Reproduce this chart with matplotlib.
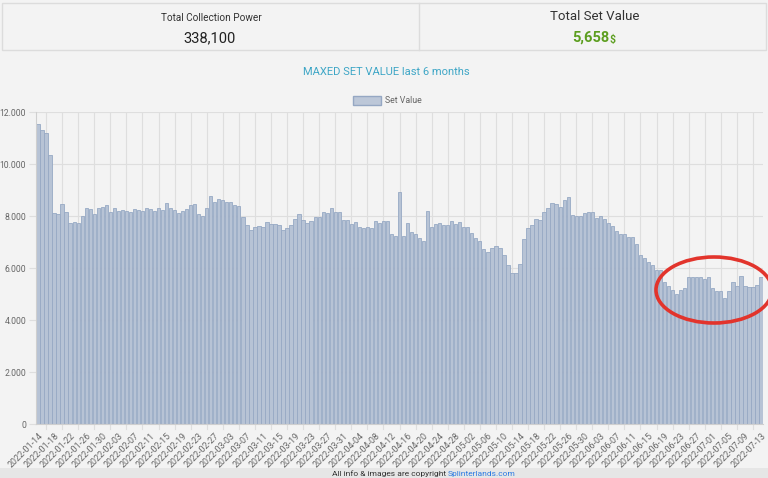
import pandas as pd
import matplotlib.pyplot as plt
from matplotlib.patches import Ellipse, Rectangle
from matplotlib.ticker import FuncFormatter

# daily "Set Value" starting 2022-01-14, one list per month
set_value_jan = [11540, 11310, 11190, 10350, 8100, 8060, 8460, 8150, 7730, 7780,
                 7730, 8000, 8300, 8260, 8080, 8310, 8360, 8410]
set_value_feb = [8170, 8310, 8200, 8230, 8190, 8150, 8270, 8240, 8190, 8310,
                 8270, 8190, 8290, 8250, 8510, 8290, 8230, 8120, 8180, 8270,
                 8440, 8460, 8070, 8000, 8310, 8760, 8550, 8650]
set_value_mar = [8620, 8540, 8520, 8420, 8370, 7970, 7640, 7460, 7570, 7610,
                 7590, 7770, 7700, 7700, 7640, 7460, 7520, 7650, 7870, 8090,
                 7840, 7730, 7790, 7950, 7950, 8160, 8130, 8320, 8140, 8140, 7830]
set_value_apr = [7830, 7680, 7770, 7560, 7530, 7590, 7550, 7800, 7740, 7810,
                 7800, 7320, 7240, 8910, 7250, 7750, 7380, 7290, 7160, 7020,
                 8200, 7560, 7710, 7740, 7660, 7660, 7820, 7700, 7770, 7560]
set_value_may = [7560, 7330, 7160, 7040, 6750, 6620, 6780, 6840, 6780, 6490,
                 6120, 5810, 5820, 6140, 7100, 7530, 7650, 7870, 7850, 8140,
                 8320, 8500, 8450, 8360, 8630, 8740, 8040, 8000, 8000, 8100, 8150]
set_value_jun = [8150, 7940, 7990, 7880, 7720, 7630, 7420, 7300, 7300, 7180,
                 7180, 6920, 6500, 6380, 6230, 6100, 5940, 5940, 5460, 5320,
                 5140, 5000, 5140, 5220, 5640, 5650, 5650, 5650, 5560, 5650]
set_value_jul = [5240, 5100, 5100, 4830, 5110, 5460, 5320, 5690, 5310, 5260,
                 5270, 5330, 5658]

set_value = (set_value_jan + set_value_feb + set_value_mar + set_value_apr
             + set_value_may + set_value_jun + set_value_jul)
dates = pd.date_range("2022-01-14", periods=len(set_value), freq="D").strftime("%Y-%m-%d").tolist()

total_power = "338,100"
total_value = "5,658"

BG = "#f3f3f3"
GRID = "#dedede"
TXT = "#666666"

plt.rcParams["font.family"] = ["Liberation Sans Narrow", "Roboto", "DejaVu Sans"]

W, H = 768, 478
fig = plt.figure(figsize=(W / 100, H / 100), dpi=100, facecolor=BG)


def fx(px):
    return px / W


def fy(py):
    return 1 - py / H


# header boxes
fig.patches.append(Rectangle((fx(2), fy(50)), fx(764), 47 / H, transform=fig.transFigure,
                             facecolor=BG, edgecolor="#dcdcdc", lw=1))
fig.add_artist(plt.Line2D([fx(419), fx(419)], [fy(50), fy(3)], color="#dcdcdc", lw=1))
fig.text(fx(211), fy(18), "Total Collection Power", ha="center", va="center", fontsize=7.2, color="#333333")
fig.text(fx(210), fy(38), total_power, ha="center", va="center", fontsize=10.5, color="#222222")
fig.text(fx(595), fy(17), "Total Set Value", ha="center", va="center", fontsize=9.5, color="#333333")
fig.text(fx(609), fy(38), total_value, ha="right", va="center", fontsize=10.5,
         color="#5c9e1f", fontweight="bold")
fig.text(fx(609), fy(39.5), "$", ha="left", va="center", fontsize=7.5, color="#5c9e1f", fontweight="bold")

# chart title
fig.text(fx(386), fy(72), "MAXED SET VALUE last 6 months", ha="center", va="center",
         fontsize=8, color="#3ea6c6")

# legend
fig.patches.append(Rectangle((fx(353), fy(105)), fx(28), 9 / H, transform=fig.transFigure,
                             facecolor="#bcc7d8", edgecolor="#95a7c3", lw=1))
fig.text(fx(385), fy(100.5), "Set Value", ha="left", va="center", fontsize=6.3, color=TXT)

ax = fig.add_axes([fx(36), fy(424), fx(727), (424 - 112) / H])
ax.set_facecolor(BG)
x = list(range(len(set_value)))
ax.bar(x, set_value, width=0.82, color="#b7c3d5", edgecolor="#97a9c4", linewidth=0.6, zorder=2)

ax.set_xlim(-0.5, len(set_value) - 0.5)
ax.set_ylim(0, 12000)
ax.set_yticks(range(0, 12001, 2000))
ax.yaxis.set_major_formatter(FuncFormatter(lambda v, p: f"{int(v):,}".replace(",", ".")))
ax.grid(axis="y", color=GRID, lw=0.8, zorder=0)

# vertical grid lines sit halfway between the shown labels
for g in range(2, len(set_value) - 1, 4):
    ax.axvline(g, color=GRID, lw=0.8, zorder=0)
    ax.plot([g, g], [0, -200], color=GRID, lw=0.8, clip_on=False)

ax.set_xticks(x[::4])
ax.set_xticklabels(dates[::4], rotation=45, ha="right", rotation_mode="anchor",
                   fontsize=6.4, color=TXT)
ax.tick_params(axis="x", length=0, pad=5)
ax.tick_params(axis="y", length=5, color=GRID, labelsize=6.2, labelcolor=TXT, pad=2)
for s in ["top", "right"]:
    ax.spines[s].set_visible(False)
ax.spines["left"].set_color("#cfcfcf")
ax.spines["bottom"].set_color("#cfcfcf")

# red marker ellipse
fig.patches.append(Ellipse((fx(714), fy(290)), fx(116), 66 / H, transform=fig.transFigure,
                           fill=False, edgecolor="#e2342c", lw=2.6, zorder=10))

# footer strip
fig.patches.append(Rectangle((0, 0), 1, 10 / H, transform=fig.transFigure,
                             facecolor="#e6e6e6", edgecolor="none"))
fig.text(fx(448), fy(474), "All info & images are copyright ", ha="right", va="center",
         fontsize=6, color="#333333")
fig.text(fx(448), fy(474), "Splinterlands.com", ha="left", va="center",
         fontsize=6, color="#2a7ae2")

fig.savefig("out.png", dpi=100, facecolor=BG)
